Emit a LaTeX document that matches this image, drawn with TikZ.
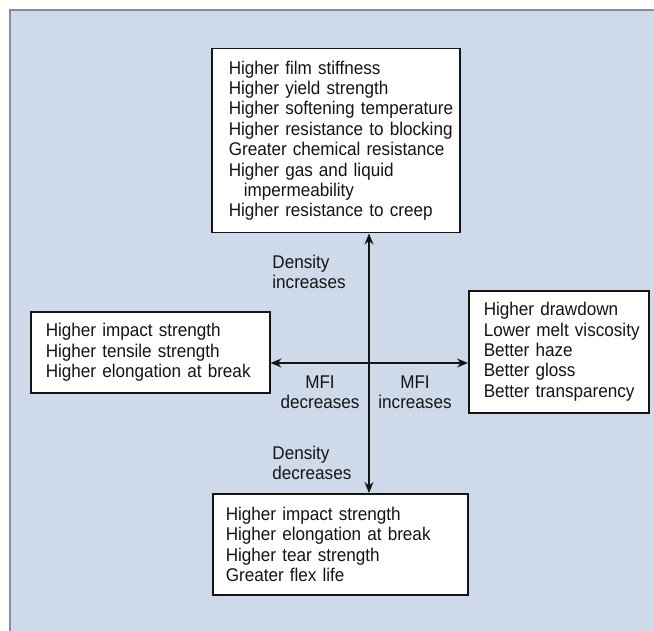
\documentclass[tikz,border=0pt]{standalone}
\usepackage{fontspec}
\setmainfont{Liberation Sans}[FakeStretch=0.93]
\usetikzlibrary{arrows.meta}
\definecolor{panel}{RGB}{206,218,234}
\definecolor{rim}{RGB}{135,140,150}
\definecolor{ink}{RGB}{20,20,20}

\tikzset{
  propbox/.style={draw=ink, line width=0.75pt, fill=white, anchor=north west,
    align=left, inner xsep=3pt, inner ysep=0pt, text=ink,
    font=\fontsize{9.2}{10.2}\selectfont},
  pad/.style={execute at begin node={\hyphenpenalty=10000\leftskip=#1}},
  axisline/.style={ink, line width=0.6pt,
    {Stealth[length=5.5pt,width=4.5pt]}-{Stealth[length=5.5pt,width=4.5pt]}},
  lbl/.style={text=ink, inner sep=0pt, font=\fontsize{9.2}{10}\selectfont}
}

\begin{document}
\begin{tikzpicture}[x=0.5pt,y=-0.5pt]
\useasboundingbox (0,0) rectangle (654,631);

% panel
\fill[panel] (10,10) rectangle (654,631);
\draw[rim, line width=0.7pt] (10,631) -- (10,10) -- (654,10);

% boxes
\node[propbox, pad=5.5pt, text width=118pt, minimum height=92pt] (top) at (211,48)
  {Higher film stiffness\\
   Higher yield strength\\
   Higher softening temperature\\
   Higher resistance to blocking\\
   Greater chemical resistance\\
   Higher gas and liquid\\
   \hspace*{7.5pt}impermeability\\
   Higher resistance to creep};
\node[propbox, pad=4.5pt, text width=113.5pt, minimum height=40.5pt] (left) at (30,311)
  {Higher impact strength\\
   Higher tensile strength\\
   Higher elongation at break};
\node[propbox, pad=4.5pt, text width=84pt, minimum height=61pt] (right) at (468,290)
  {Higher drawdown\\
   Lower melt viscosity\\
   Better haze\\
   Better gloss\\
   Better transparency};
\node[propbox, pad=3.5pt, text width=121.5pt, minimum height=50.5pt] (bottom) at (212,493)
  {Higher impact strength\\
   Higher elongation at break\\
   Higher tear strength\\
   Greater flex life};

% axes
\coordinate (cross) at (369,363);
\draw[axisline] (cross |- top.south) -- (cross |- bottom.north);
\draw[axisline] (cross -| left.east) -- (cross -| right.west);

% labels
\node[lbl, anchor=west, align=left] (dinc) at (272,272) {Density\\increases};
\node[lbl, align=center] (mdec) at (320,392) {MFI\\decreases};
\node[lbl, align=center] (minc) at (415,392) {MFI\\increases};
\node[lbl, anchor=west, align=left] (ddec) at (272,463) {Density\\decreases};
\end{tikzpicture}
\end{document}
